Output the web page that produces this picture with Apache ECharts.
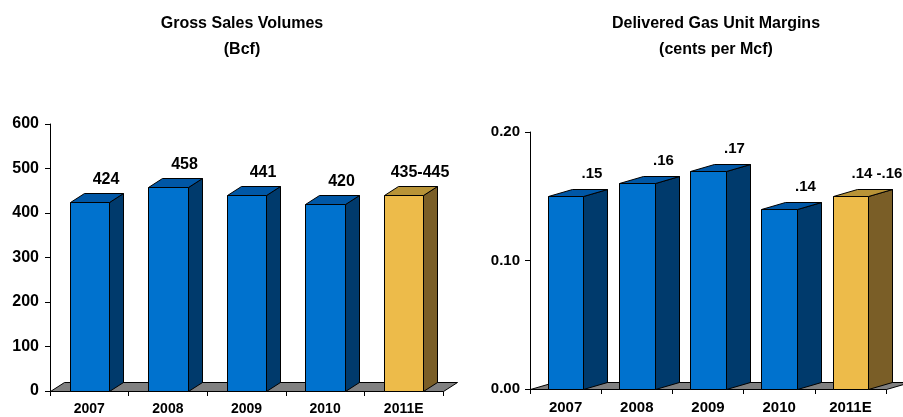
<!DOCTYPE html>
<html><head><meta charset="utf-8">
<script src="https://cdn.jsdelivr.net/npm/echarts@6/dist/echarts.min.js"></script>
<style>html,body{margin:0;padding:0;background:#fff}#c{width:903px;height:417px}</style>
</head><body><div id="c"></div>
<script>
// ---- data ----
const categories = ['2007', '2008', '2009', '2010', '2011E'];
const volumes = [424, 458, 441, 420, 440];
const volumeLabels = ['424', '458', '441', '420', '435-445'];
const margins = [0.15, 0.16, 0.17, 0.14, 0.15];
const marginLabels = ['.15', '.16', '.17', '.14', '.14 -.16'];

// ---- styling ----
const FONT = 'Liberation Sans, Arial, sans-serif';
const BLUE = { front: '#0072CE', side: '#003A6C', top: '#0057A6' };
const GOLD = { front: '#EDBB4A', side: '#7A5E27', top: '#B89337' };

function barRenderer(labels, dx, dy, fontSize, labelLift) {
  return function (params, api) {
    const idx = api.value(0);
    const val = api.value(1);
    const top = api.coord([idx, val]);
    const base = api.coord([idx, 0]);
    const band = api.size([1, 0])[0];
    const w = band * 0.5;
    const x0 = Math.round(top[0] - w / 2) + 0.5, x1 = Math.round(top[0] + w / 2) + 0.5;
    const yt = Math.round(top[1]) + 0.5, yb = Math.round(base[1]) + 0.5;
    const c = idx === categories.length - 1 ? GOLD : BLUE;
    const st = { stroke: '#000', lineWidth: 1 };
    return {
      type: 'group',
      children: [
        { type: 'polygon', shape: { points: [[x1, yb], [x1 + dx, yb + dy], [x1 + dx, yt + dy], [x1, yt]] },
          style: Object.assign({ fill: c.side }, st) },
        { type: 'polygon', shape: { points: [[x0, yt], [x1, yt], [x1 + dx, yt + dy], [x0 + dx, yt + dy]] },
          style: Object.assign({ fill: c.top }, st) },
        { type: 'rect', shape: { x: x0, y: yt, width: x1 - x0, height: yb - yt },
          style: Object.assign({ fill: c.front }, st) },
        { type: 'text', style: { text: labels[idx], x: (x0 + x1) / 2 + dx + 2, y: yt + dy - labelLift,
            textAlign: 'center', textVerticalAlign: 'middle', fill: '#000',
            font: 'bold ' + fontSize + 'px ' + FONT } }
      ]
    };
  };
}

function floorRenderer(dx, dy) {
  return function (params, api) {
    const band = api.size([1, 0])[0];
    const a = api.coord([0, 0]);
    const b = api.coord([categories.length - 1, 0]);
    const xs = Math.round(a[0] - band / 2) + 0.5, xe = Math.round(b[0] + band / 2) + 0.5;
    const y = Math.round(a[1]) + 0.5;
    return {
      type: 'polygon',
      shape: { points: [[xs, y], [xe, y], [xe + dx, y + dy], [xs + dx, y + dy]] },
      style: { fill: '#808080', stroke: '#000', lineWidth: 1 }
    };
  };
}

const chart = echarts.init(document.getElementById('c'), null, { renderer: 'canvas' });

function xAxisCfg(gi, fs) {
  return {
    type: 'category', gridIndex: gi, data: categories,
    axisLine: { show: true, lineStyle: { color: '#000', width: 1 } },
    axisTick: { show: true, alignWithLabel: false, length: 5, lineStyle: { color: '#000' } },
    axisLabel: { color: '#000', fontWeight: 'bold', fontSize: fs, fontFamily: FONT, margin: 11 },
    splitLine: { show: false }
  };
}
function yAxisCfg(gi, min, max, interval, fs, margin, fmt) {
  return {
    type: 'value', gridIndex: gi, min: min, max: max, interval: interval,
    axisLine: { show: true, lineStyle: { color: '#000', width: 1 } },
    axisTick: { show: true, length: 5, lineStyle: { color: '#000' } },
    axisLabel: { color: '#000', fontWeight: 'bold', fontSize: fs, fontFamily: FONT, margin: margin, formatter: fmt },
    splitLine: { show: false }
  };
}

const titleStyle = { color: '#000', fontWeight: 'bold', fontSize: 16, fontFamily: FONT };

chart.setOption({
  animation: false,
  title: [
    { text: 'Gross Sales Volumes', left: 237, top: 11, textAlign: 'center', textStyle: titleStyle },
    { text: '(Bcf)', left: 237, top: 37, textAlign: 'center', textStyle: titleStyle },
    { text: 'Delivered Gas Unit Margins', left: 711, top: 11, textAlign: 'center', textStyle: titleStyle },
    { text: '(cents per Mcf)', left: 711, top: 37, textAlign: 'center', textStyle: titleStyle }
  ],
  grid: [
    { left: 50, right: 460, top: 124, bottom: 26 },
    { left: 530, right: 17, top: 132, bottom: 28 }
  ],
  xAxis: [xAxisCfg(0, 14), xAxisCfg(1, 15)],
  yAxis: [
    yAxisCfg(0, 0, 600, 100, 16, 11, function (v) { return String(v); }),
    yAxisCfg(1, 0, 0.2, 0.1, 15, 10, function (v) { return v.toFixed(2); })
  ],
  series: [
    { type: 'custom', xAxisIndex: 0, yAxisIndex: 0, z: 1, silent: true,
      renderItem: floorRenderer(14, -9), data: [[0, 0]] },
    { type: 'custom', xAxisIndex: 0, yAxisIndex: 0, z: 2, silent: true,
      renderItem: barRenderer(volumeLabels, 14, -9, 16, 14),
      data: volumes.map(function (v, i) { return [i, v]; }) },
    { type: 'custom', xAxisIndex: 1, yAxisIndex: 1, z: 1, silent: true,
      renderItem: floorRenderer(24, -7), data: [[0, 0]] },
    { type: 'custom', xAxisIndex: 1, yAxisIndex: 1, z: 2, silent: true,
      renderItem: barRenderer(marginLabels, 24, -7, 15, 16),
      data: margins.map(function (v, i) { return [i, v]; }) }
  ]
});
</script>
</body></html>
